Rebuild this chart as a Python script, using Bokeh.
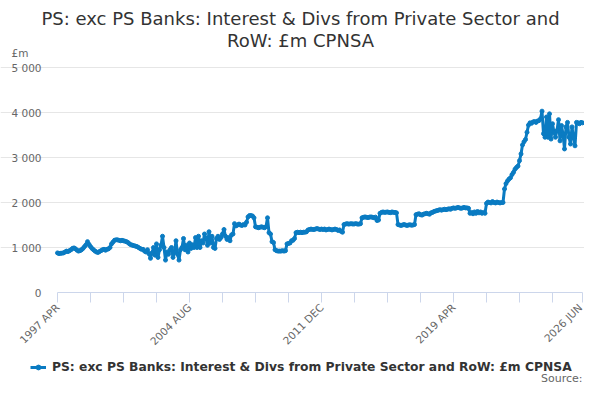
import math
from bokeh.plotting import figure
from bokeh.models import Range1d, FixedTicker, Label, Legend, LegendItem
from bokeh.embed import file_html
from bokeh.resources import INLINE

# ---- data (monthly, 1997 APR .. 2026 JUN), £m ----
y1997 = [880, 865, 870, 875, 880, 900, 920, 910, 930]  # Apr-Dec
y1998 = [950, 980, 990, 970, 940, 920, 930, 950, 980, 1020, 1060, 1130]
y1999 = [1070, 1020, 980, 950, 920, 900, 890, 910, 930, 950, 960, 940]
y2000 = [960, 970, 1000, 1080, 1120, 1160, 1170, 1170, 1160, 1150, 1160, 1150]
y2001 = [1140, 1130, 1110, 1080, 1060, 1050, 1040, 1030, 1020, 1000, 980, 960]
y2002 = [960, 920, 900, 950, 860, 760, 880, 1000, 830, 1080, 780, 950]
y2003 = [1050, 1250, 1000, 720, 900, 850, 950, 1000, 780, 900, 1150, 850]
y2004 = [720, 950, 1000, 1200, 950, 1050, 900, 1100, 980, 1060, 1000, 1220]
y2005 = [1000, 1250, 1000, 1150, 1100, 1300, 1200, 1050, 1350, 1100, 1250, 1000]
y2006 = [980, 1200, 1250, 1180, 1220, 1300, 1400, 1250, 1180, 1220, 1150, 1280]
y2007 = [1300, 1530, 1480, 1500, 1520, 1500, 1490, 1510, 1500, 1560, 1680, 1710]
y2008 = [1710, 1700, 1660, 1460, 1450, 1440, 1450, 1460, 1450, 1440, 1460, 1660]
y2009 = [1330, 1300, 1130, 1110, 950, 930, 920, 920, 920, 930, 920, 930]
y2010 = [1080, 1090, 1100, 1150, 1160, 1200, 1330, 1340, 1330, 1340, 1330, 1340]
y2011 = [1340, 1350, 1390, 1400, 1410, 1400, 1400, 1410, 1420, 1410, 1400, 1410]
y2012 = [1400, 1410, 1390, 1400, 1410, 1400, 1390, 1400, 1410, 1400, 1380, 1390]
y2013 = [1360, 1340, 1510, 1520, 1530, 1520, 1525, 1530, 1520, 1525, 1530, 1520]
y2014 = [1520, 1530, 1660, 1670, 1680, 1670, 1665, 1675, 1680, 1670, 1660, 1675]
y2015 = [1600, 1610, 1760, 1780, 1790, 1780, 1785, 1790, 1780, 1775, 1790, 1780]
y2016 = [1780, 1770, 1510, 1500, 1490, 1500, 1510, 1500, 1490, 1500, 1505, 1495]
y2017 = [1500, 1510, 1730, 1740, 1750, 1730, 1720, 1740, 1750, 1760, 1750, 1740]
y2018 = [1770, 1780, 1800, 1810, 1820, 1830, 1840, 1830, 1840, 1850, 1840, 1850]
y2019 = [1860, 1850, 1870, 1880, 1870, 1880, 1890, 1880, 1870, 1880, 1890, 1880]
y2020 = [1880, 1870, 1760, 1780, 1750, 1790, 1760, 1800, 1770, 1790, 1760, 1780]
y2021 = [1760, 1980, 2010, 2000, 1990, 2020, 2000, 1990, 2010, 2000, 1990, 2000]
y2022 = [2000, 2300, 2420, 2480, 2520, 2550, 2620, 2670, 2740, 2780, 2810, 2930]
y2023 = [3080, 3280, 3350, 3400, 3560, 3720, 3770, 3760, 3790, 3800, 3780, 3810]
y2024 = [3820, 3860, 4030, 3530, 3450, 3900, 3450, 3970, 3410, 3750, 3560, 3450]
y2025 = [3600, 3840, 3370, 3710, 3520, 3190, 3680, 3780, 3450, 3300, 3680, 3450]
y2026 = [3260, 3780, 3770, 3750, 3780, 3770]  # Jan-Jun

yearly = [y1997, y1998, y1999, y2000, y2001, y2002, y2003, y2004, y2005, y2006,
          y2007, y2008, y2009, y2010, y2011, y2012, y2013, y2014, y2015, y2016,
          y2017, y2018, y2019, y2020, y2021, y2022, y2023, y2024, y2025, y2026]
values = [v for yr in yearly for v in yr]

MONTH_NAMES = ["JAN", "FEB", "MAR", "APR", "MAY", "JUN",
               "JUL", "AUG", "SEP", "OCT", "NOV", "DEC"]
periods = []
for yr in range(1997, 2027):
    for mi, mn in enumerate(MONTH_NAMES):
        if (yr == 1997 and mi < 3) or (yr == 2026 and mi > 5):
            continue
        periods.append(f"{yr} {mn}")

x = list(range(len(values)))
n_last = len(values) - 1

y_ticks = [0, 1000, 2000, 3000, 4000, 5000]
y_tick_labels = ["0", "1 000", "2 000", "3 000", "4 000", "5 000"]
x_ticks = list(range(0, n_last, 22)) + [n_last]
x_label_ticks = [0, 88, 176, 264, n_last]

TITLE1 = "PS: exc PS Banks: Interest & Divs from Private Sector and"
TITLE2 = "RoW: £m CPNSA"
SERIES = "PS: exc PS Banks: Interest & Divs from Private Sector and RoW: £m CPNSA"

FONT = "DejaVu Sans"
BLUE = "#0a7bc2"

W, H = 584, 384
# plot-area geometry in canvas px: left, right, top (5000), bottom (0)
FL, FR, FT, FB = 57, 582, 67, 292


def px_x(px):
    return (px - FL) / (FR - FL) * n_last


def px_y(py):
    return (FB - py) / (FB - FT) * 5000


# the frame spans the whole canvas; axes are pinned at x=0 / y=0
p = figure(width=W, height=H, output_backend="svg", toolbar_location=None,
           x_range=Range1d(px_x(0), px_x(W)), y_range=Range1d(px_y(H), px_y(0)),
           min_border=0)
p.outline_line_color = None
p.background_fill_color = "white"
p.border_fill_color = "white"

line = p.line(x, values, line_color=BLUE, line_width=3)
dots = p.scatter(x, values, size=4, color=BLUE)

# y axis
p.yaxis.fixed_location = 0
p.yaxis.bounds = (0, 5000)
p.yaxis.ticker = FixedTicker(ticks=y_ticks)
p.yaxis.major_label_overrides = dict(zip(y_ticks, y_tick_labels))
p.yaxis.axis_line_color = None
p.yaxis.major_tick_line_color = None
p.yaxis.minor_tick_line_color = None
p.yaxis.major_tick_out = 0
p.yaxis.major_tick_in = 0
p.yaxis.major_label_standoff = 16
p.yaxis.major_label_text_font = FONT
p.yaxis.major_label_text_font_size = "10.5px"
p.yaxis.major_label_text_color = "#666666"
p.ygrid.ticker = FixedTicker(ticks=y_ticks[1:])
p.ygrid.bounds = (0, n_last)
p.ygrid.grid_line_color = "#e6e6e6"
p.xgrid.visible = False

# x axis
p.xaxis.fixed_location = 0
p.xaxis.bounds = (0, n_last)
p.xaxis.ticker = FixedTicker(ticks=x_ticks, minor_ticks=[])
p.xaxis.major_label_overrides = {t: (periods[t] if t in x_label_ticks else "") for t in x_ticks}
p.xaxis.axis_line_color = "#ccd6eb"
p.xaxis.major_tick_line_color = "#ccd6eb"
p.xaxis.minor_tick_line_color = None
p.xaxis.major_tick_out = 10
p.xaxis.major_tick_in = 0
p.xaxis.major_label_orientation = math.pi / 4
p.xaxis.major_label_standoff = 3
p.xaxis.major_label_text_font = FONT
p.xaxis.major_label_text_font_size = "10.5px"
p.xaxis.major_label_text_color = "#666666"

# titles and texts
for txt, py in [(TITLE1, 18), (TITLE2, 40)]:
    p.add_layout(Label(x=px_x(300), y=px_y(py), text=txt, text_align="center",
                       text_baseline="middle", text_font=FONT, text_font_size="18px",
                       text_color="#333333"))
p.add_layout(Label(x=px_x(11), y=px_y(52), text="£m", text_align="left",
                   text_baseline="middle", text_font=FONT, text_font_size="10.5px",
                   text_color="#666666"))
p.add_layout(Label(x=px_x(582), y=px_y(378), text="Source:", text_align="right",
                   text_baseline="middle", text_font=FONT, text_font_size="11px",
                   text_color="#666666"))

legend = Legend(items=[LegendItem(label=SERIES, renderers=[line, dots])],
                location=(30, H - 374), orientation="horizontal",
                border_line_color=None, background_fill_alpha=0,
                label_text_font=FONT, label_text_font_style="bold",
                label_text_font_size="12.3px", label_text_color="#333333",
                glyph_width=16, glyph_height=12, label_standoff=6,
                padding=0, margin=0, spacing=0)
p.add_layout(legend)

open("out.html", "w").write(file_html(p, INLINE))
